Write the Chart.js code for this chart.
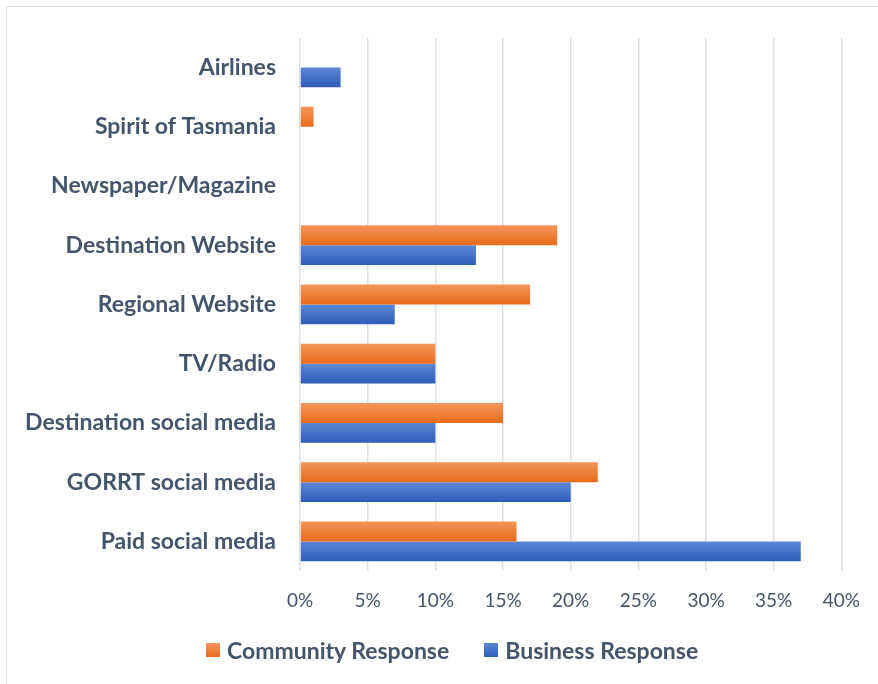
<!DOCTYPE html>
<html>
<head>
<meta charset="utf-8">
<script src="https://cdn.jsdelivr.net/npm/chart.js@4/dist/chart.umd.min.js"></script>
<style>
  body { margin:0; background:#fff; overflow:hidden; }
  #frame { position:absolute; left:6px; top:6px; width:900px; height:700px; border:1.5px solid #dde1e7; }
  #wrap { position:absolute; left:0; top:0; width:878px; height:684px; }
  #legend { position:absolute; left:206px; top:636px; height:28px; display:flex; align-items:center;
    font-family:Lato; font-weight:bold; font-size:23px; color:#44546a; }
  #legend .item { display:flex; align-items:center; margin-right:35px; }
  #legend .box { width:14px; height:14px; margin-right:7px; }
</style>
</head>
<body>
<div id="frame"></div>
<div id="wrap"><canvas id="myChart" width="878" height="684"></canvas></div>
<div id="legend"></div>
<script>
// data, top to bottom
const categories = ["Airlines", "Spirit of Tasmania", "Newspaper/Magazine", "Destination Website",
  "Regional Website", "TV/Radio", "Destination social media", "GORRT social media", "Paid social media"]
const communityResponse = [0, 1, 0, 19, 17, 10, 15, 22, 16]
const businessResponse = [3, 0, 0, 13, 7, 10, 10, 20, 37]
const xTicks = [0, 5, 10, 15, 20, 25, 30, 35, 40]

const catPct = 0.67
const textColor = "#44546a"

function barGradient(ctx, top, bottom, fallback) {
  let chart = ctx.chart
  let y = chart.scales.y
  if (!chart.chartArea || !y) return fallback
  let band = y.height / categories.length
  let barH = band * catPct / 2
  let center = y.getPixelForValue(ctx.dataIndex)
  let y0 = center - barH + ctx.datasetIndex * barH
  let g = chart.ctx.createLinearGradient(0, y0, 0, y0 + barH)
  g.addColorStop(0, top)
  g.addColorStop(1, bottom)
  return g
}

var ctx = document.getElementById("myChart").getContext("2d")
var myChart = new Chart(ctx, {
  type: 'bar',
  data: {
    labels: categories,
    datasets: [
      {
        label: "Community Response",
        data: communityResponse,
        backgroundColor: c => barGradient(c, "#f4955a", "#e86c1c", "#ed7d31"),
        borderWidth: 0,
        categoryPercentage: catPct,
        barPercentage: 1
      },
      {
        label: "Business Response",
        data: businessResponse,
        backgroundColor: c => barGradient(c, "#5d88d6", "#2d5db8", "#4472c4"),
        borderWidth: 0,
        categoryPercentage: catPct,
        barPercentage: 1
      }
    ]
  },
  options: {
    indexAxis: 'y',
    responsive: false,
    animation: false,
    layout: { padding: { top: 27, right: 30, left: 0, bottom: 73 } },
    scales: {
      x: {
        min: 0, max: 40,
        afterBuildTicks: s => { s.ticks = xTicks.map(v => ({ value: v })) },
        afterFit: s => { s.height = 40 },
        grid: { color: "#dde1e7", lineWidth: 1.5, drawTicks: false },
        border: { display: false },
        ticks: {
          color: textColor, padding: 18,
          font: { family: "Lato", size: 19 },
          callback: v => v + "%"
        }
      },
      y: {
        grid: { display: false, drawTicks: false },
        border: { display: false },
        afterFit: s => { s.width = 300 },
        ticks: {
          color: textColor, padding: 24,
          font: { family: "Lato", size: 23, weight: "bold" }
        }
      }
    },
    plugins: {
      legend: { display: false },
      tooltip: { enabled: false }
    }
  }
})

// legend
let legendColors = ["linear-gradient(#f4955a,#e86c1c)", "linear-gradient(#5d88d6,#2d5db8)"]
let legend = document.getElementById("legend")
myChart.data.datasets.forEach((ds, i) => {
  let item = document.createElement("div")
  item.className = "item"
  item.innerHTML = '<span class="box" style="background:' + legendColors[i] + '"></span><span>' + ds.label + '</span>'
  legend.appendChild(item)
})
</script>
</body>
</html>
